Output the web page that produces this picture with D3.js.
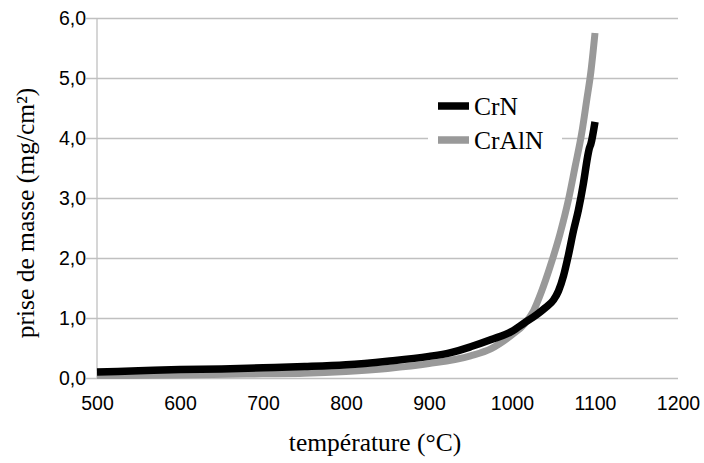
<!DOCTYPE html>
<html><head><meta charset="utf-8">
<script src="https://cdn.jsdelivr.net/npm/d3@7"></script>
<style>body{margin:0;background:#fff}svg{display:block}</style>
</head><body>
<svg id="c" width="704" height="463"></svg>
<script>
const xTicks = [500,600,700,800,900,1000,1100,1200];
const yTicks = [0,1,2,3,4,5,6];
const seriesNames = ["CrN","CrAlN"];
const crnT = [500,550,600,650,700,750,800,850,900,925,950,975,1000,1015,1030,1040,1050,1056,1062,1068,1074,1080,1086,1091,1093,1095,1100];
const crnV = [0.10,0.12,0.14,0.15,0.17,0.19,0.22,0.28,0.36,0.42,0.52,0.64,0.78,0.92,1.06,1.17,1.30,1.45,1.70,2.05,2.45,2.80,3.24,3.68,3.82,3.90,4.27];
const cralnT = [500,600,700,750,800,850,900,950,975,1000,1015,1026,1035,1046,1058,1068,1076,1084,1090,1095,1100];
const cralnV = [0.04,0.05,0.07,0.08,0.11,0.16,0.24,0.37,0.49,0.72,0.90,1.12,1.42,1.86,2.41,2.97,3.52,4.08,4.63,5.10,5.75];

const svg = d3.select("#c");
const L = 97, R = 678, T = 18, B = 378;
const x = d3.scaleLinear().domain([500,1200]).range([L,R]);
const y = d3.scaleLinear().domain([0,6]).range([B,T]);
const grid = "#c0c0c0";
const fmt = v => d3.format(".1f")(v).replace(".", ",");
const sans = "'Liberation Sans', Arial, sans-serif";
const serif = "'Liberation Serif', 'Times New Roman', serif";

// gridlines + y ticks
const yAxis = d3.axisLeft(y).tickValues(yTicks).tickSize(-(R-L)).tickSizeOuter(0).tickFormat(fmt).tickPadding(11);
const ga = svg.append("g").attr("transform",`translate(${L},0)`).call(yAxis);
ga.select(".domain").remove();
ga.selectAll(".tick line").attr("stroke",grid).attr("stroke-width",1.3).attr("x1",-11);
ga.selectAll(".tick text").attr("font-family",sans).attr("font-size",19.5).attr("fill","#000");
svg.append("line").attr("x1",L).attr("x2",L).attr("y1",T).attr("y2",B).attr("stroke",grid).attr("stroke-width",1.3);

// x tick labels
const xAxis = d3.axisBottom(x).tickValues(xTicks).tickSize(0).tickPadding(18).tickFormat(d3.format("d"));
const gx = svg.append("g").attr("transform",`translate(0,${B})`).call(xAxis);
gx.select(".domain").remove();
gx.selectAll(".tick text").attr("font-family",sans).attr("font-size",19.5).attr("fill","#000");

// lines
const line = d3.line().x(d=>x(d[0])).y(d=>y(d[1])).curve(d3.curveMonotoneX);
const crn = crnT.map((t,i)=>[t,crnV[i]]);
const craln = cralnT.map((t,i)=>[t,cralnV[i]]);
svg.append("path").attr("d",line(craln)).attr("fill","none").attr("stroke","#999999").attr("stroke-width",7);
svg.append("path").attr("d",line(crn)).attr("fill","none").attr("stroke","#000").attr("stroke-width",7.5);

// legend
const lg = svg.append("g");
lg.append("rect").attr("x",428).attr("y",90).attr("width",134).attr("height",66).attr("fill","#fff");
const colors = ["#000","#999999"];
seriesNames.forEach((n,i)=>{
  const yy = 106 + i*34;
  lg.append("line").attr("x1",438).attr("x2",469).attr("y1",yy).attr("y2",yy).attr("stroke",colors[i]).attr("stroke-width",7.5);
  lg.append("text").attr("x",474).attr("y",yy+9).attr("font-family",serif).attr("font-size",25.5).attr("fill","#000").text(n);
});

// axis titles
svg.append("text").attr("x",375).attr("y",451).attr("text-anchor","middle")
  .attr("font-family",serif).attr("font-size",25.5).text("température (°C)");
svg.append("text").attr("transform","translate(34,213) rotate(-90)").attr("text-anchor","middle")
  .attr("font-family",serif).attr("font-size",25.5).text("prise de masse (mg/cm²)");
</script>
</body></html>
